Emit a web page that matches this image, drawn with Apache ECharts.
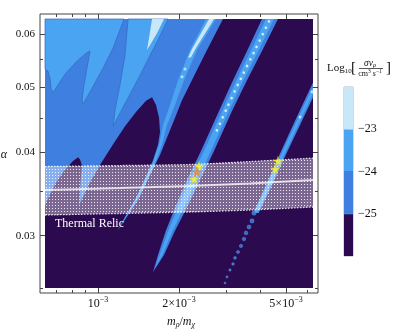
<!DOCTYPE html>
<html><head><meta charset="utf-8">
<script src="https://cdn.jsdelivr.net/npm/echarts@6/dist/echarts.min.js"></script>
<style>html,body{margin:0;padding:0;background:#fff}#c{width:395px;height:330px}</style>
</head><body><div id="c"></div>
<script>
// ===== data: m_rho/m_chi in units of 1e-3, alpha =====
const mRange = [0.635, 6.30];
const alphaRange = [0.02506, 0.0632];
const xMajorTicks = [1, 2, 5];
const xMajorPrefix = ['', '2×', '5×'];
const xMinorTicks = [0.7, 0.8, 0.9, 3, 4, 6];
const yMajorTicks = [0.03, 0.04, 0.05, 0.06];
const yMinorTicks = [0.025, 0.035, 0.045, 0.055];
const colorLevels = [-26, -25, -24, -23, -22];
const colorbarTicks = [-25, -24, -23];

// contour regions (polygon vertices [m, alpha])
const regionBelow25 = [[0.635,0.02506],[6.30,0.02506],[6.30,0.0632],[0.635,0.0632]];
const region25to24 = [[0.635,0.0632],[2.915,0.0632],[2.520,0.0564],[2.255,0.0516],[2.052,0.0478],[1.917,0.0446],[1.790,0.0417],[1.700,0.0396],[1.561,0.0370],[1.420,0.0341],[1.293,0.0322],[1.177,0.0304],[1.271,0.0322],[1.384,0.0341],[1.508,0.0368],[1.601,0.0389],[1.671,0.0410],[1.700,0.0428],[1.686,0.0450],[1.643,0.0470],[1.588,0.0483],[1.508,0.0477],[1.384,0.0459],[1.260,0.0437],[1.147,0.0413],[1.026,0.0385],[0.926,0.0358],[0.850,0.0333],[0.857,0.0351],[0.865,0.0370],[0.872,0.0382],[0.857,0.0390],[0.843,0.0393],[0.807,0.0388],[0.748,0.0375],[0.698,0.0360],[0.663,0.0346],[0.635,0.0333]];
const region24to23a = [[0.635,0.0632],[1.249,0.0632],[1.137,0.0572],[1.044,0.0534],[0.950,0.0498],[0.880,0.0472],[0.872,0.0478],[0.887,0.0504],[0.910,0.0534],[0.934,0.0566],[0.902,0.0562],[0.828,0.0545],[0.760,0.0525],[0.710,0.0504],[0.680,0.0490],[0.669,0.0498],[0.663,0.0516],[0.652,0.0528],[0.635,0.0532]];
const region24to23b = [[1.293,0.0632],[1.821,0.0632],[1.671,0.0588],[1.561,0.0558],[1.433,0.0521],[1.293,0.0482],[1.137,0.0437],[1.157,0.0462],[1.207,0.0504],[1.260,0.0558]];
const regionAbove23 = [[1.588,0.0632],[1.759,0.0632],[1.657,0.0602],[1.561,0.0578],[1.521,0.0568],[1.547,0.0592]];
const stripeB = [[2.520,0.0632],[2.198,0.0568],[1.983,0.0512],[1.852,0.0470],[1.744,0.0439],[1.686,0.0410],[1.581,0.0382],[1.449,0.0353],[1.310,0.0328],[1.197,0.0308],[1.323,0.0328],[1.470,0.0353],[1.622,0.0382],[1.730,0.0410],[1.805,0.0439],[1.933,0.0470],[2.088,0.0512],[2.334,0.0568],[2.746,0.0632]];
const stripeBCore = [[2.586,0.0632],[2.236,0.0570],[2.161,0.0553],[2.217,0.0554],[2.314,0.0572],[2.699,0.0632]];
const stripeBDots = [[2.106,0.0532],[2.053,0.0518]];
const stripeCOuter = [[4.071,0.0632],[3.596,0.0568],[3.176,0.0512],[2.829,0.0462],[2.405,0.0400],[2.151,0.03645],[1.950,0.0333],[1.782,0.0304],[1.671,0.02807],[1.601,0.02648],[1.759,0.02807],[1.925,0.0304],[2.161,0.0333],[2.405,0.03645],[2.688,0.0400],[3.162,0.0462],[3.580,0.0512],[4.088,0.0568],[4.668,0.0632]];
const stripeCInner = [[4.212,0.0632],[3.711,0.0568],[3.272,0.0512],[2.908,0.0462],[2.467,0.0400],[2.207,0.03645],[2.000,0.0333],[1.818,0.0304],[1.696,0.02807],[1.629,0.02685],[1.734,0.02807],[1.887,0.0304],[2.106,0.0333],[2.344,0.03645],[2.619,0.0400],[3.077,0.0462],[3.474,0.0512],[3.961,0.0568],[4.511,0.0632]];
const stripeCCore = [[4.322,0.0627],[3.834,0.0568],[3.372,0.0512],[2.991,0.0462],[2.746,0.0428]];
const stripeDOuter = [[6.299,0.05079],[5.376,0.04434],[4.741,0.03972],[4.245,0.03596],[3.775,0.03243],[3.961,0.03243],[4.476,0.03596],[5.008,0.03972],[5.708,0.04434],[6.299,0.04824]];
const stripeDInner = [[6.299,0.05011],[5.460,0.04434],[4.802,0.03972],[4.296,0.03596],[3.818,0.03243],[3.917,0.03243],[4.423,0.03596],[4.944,0.03972],[5.621,0.04434],[6.299,0.04889]];
const stripeDDots = [[6.245,0.0492],[5.635,0.0451]];
const stripeDBlobs = [[3.801,0.03243],[3.737,0.03156],[3.642,0.03091],[3.550,0.03028],[3.489,0.02966],[3.401,0.02896],[3.315,0.02837],[3.231,0.02779],[3.176,0.02722],[3.095,0.02666],[3.017,0.02603],[2.966,0.02550]];

// thermal relic band
const relicM = [0.635, 1.207, 2.198, 3.673, 6.299];
const relicCentral = [0.03510, 0.03534, 0.03559, 0.03589, 0.03633];
const relicUpper = [0.03805, 0.03818, 0.03832, 0.03871, 0.03918];
const relicLower = [0.03221, 0.03238, 0.03255, 0.03277, 0.03311];

// benchmark points
const starsYellow = [[2.374,0.03812],[2.275,0.03645],[4.668,0.03878],[4.550,0.03773]];
const starsOrange = [[2.334,0.03734]];

// ===== styling =====
const C = {dark:'#2c0a4f', mid:'#3f7fe0', light:'#4ba4f1', lightest:'#c8e8fa', edge:'#3369c2'};
const FONT = '"Liberation Serif","DejaVu Serif","Times New Roman",serif';
const FRAME = '#444';
const X = m => Math.log10(m * 1e-3);
const Y = a => Math.log10(a);
const padX = (X(mRange[1]) - X(mRange[0])) * 5 / 268;
const padY = (Y(alphaRange[1]) - Y(alphaRange[0])) * 5 / 269;
const xMin = X(mRange[0]) - padX, xMax = X(mRange[1]) + padX;
const yMin = Y(alphaRange[0]) - padY, yMax = Y(alphaRange[1]) + padY;

const layers = [
  {pts: regionBelow25, color: C.dark},
  {pts: region25to24, color: C.mid},
  {pts: region24to23a, color: C.light, stroke: C.edge},
  {pts: region24to23b, color: C.light, stroke: C.edge},
  {pts: regionAbove23, color: C.lightest},
  {pts: stripeB, color: C.light},
  {pts: stripeBCore, color: C.lightest},
  {pts: stripeCOuter, color: C.mid},
  {pts: stripeCInner, color: C.light},
  {pts: stripeDOuter, color: C.mid},
  {pts: stripeDInner, color: C.light}
];

const pc = document.createElement('canvas'); pc.width = 3; pc.height = 3;
const g = pc.getContext('2d');
g.fillStyle = 'rgba(255,255,255,0.38)'; g.fillRect(0,0,3,3);
g.fillStyle = 'rgba(255,255,255,0.85)'; g.fillRect(1,1,1,1);

const star = 'path://M50,0 L61,35 L98,35 L68,57 L79,91 L50,70 L21,91 L32,57 L2,35 L39,35 Z';

function xAx(pos, ticks, len, labels) {
  return {
    type:'value', gridIndex:0, position:pos, min:xMin, max:xMax,
    axisLine:{show:false}, splitLine:{show:false},
    axisTick:{show:true, inside:true, length:len, customValues: ticks.map(X), lineStyle:{color:FRAME, width:1}},
    axisLabel: labels ? {
      show:true, customValues: ticks.map(X), margin:3,
      formatter: v => { const i = xMajorTicks.findIndex(t => Math.abs(X(t) - v) < 1e-6); return '{b|' + xMajorPrefix[i] + '10}{s|−3}'; },
      rich: {
        b:{fontFamily:FONT, fontSize:12, color:'#111', lineHeight:16},
        s:{fontFamily:FONT, fontSize:8, color:'#111', lineHeight:10, verticalAlign:'top'}
      }
    } : {show:false}
  };
}
function yAx(pos, ticks, len, labels) {
  return {
    type:'value', gridIndex:0, position:pos, min:yMin, max:yMax,
    axisLine:{show:false}, splitLine:{show:false},
    axisTick:{show:true, inside:true, length:len, customValues: ticks.map(Y), lineStyle:{color:FRAME, width:1}},
    axisLabel: labels ? {
      show:true, customValues: ticks.map(Y), margin:5, fontFamily:FONT, fontSize:11, color:'#111',
      formatter: v => Math.pow(10, v).toFixed(2)
    } : {show:false}
  };
}

const cbColors = [C.dark, C.mid, C.light, C.lightest];
const cbLines = ['#5b9be8', '#2f64b8', '#86c2f0'];

const option = {
  animation:false,
  grid:[
    {left:40, top:14, right:77, bottom:37, show:true, borderColor:FRAME, borderWidth:1, containLabel:false, outerBoundsMode:'none'},
    {left:344, top:87, width:9, height:169, show:true, borderColor:'#b4b4b4', borderWidth:1, containLabel:false, outerBoundsMode:'none'}
  ],
  xAxis:[
    xAx('bottom', xMajorTicks, 5, true),
    xAx('bottom', xMinorTicks, 3, false),
    xAx('top', xMajorTicks, 5, false),
    xAx('top', xMinorTicks, 3, false),
    {type:'value', gridIndex:1, min:0, max:1, show:false}
  ],
  yAxis:[
    yAx('left', yMajorTicks, 5, true),
    yAx('left', yMinorTicks, 3, false),
    yAx('right', yMajorTicks, 5, false),
    yAx('right', yMinorTicks, 3, false),
    {type:'value', gridIndex:1, position:'right', min:colorLevels[0], max:colorLevels[colorLevels.length-1],
     axisLine:{show:false}, splitLine:{show:false},
     axisTick:{show:true, inside:false, length:3, customValues:colorbarTicks, lineStyle:{color:'#333'}},
     axisLabel:{show:true, customValues:colorbarTicks, margin:5, fontFamily:FONT, fontSize:12, color:'#111',
       formatter: v => '−' + Math.abs(v)}}
  ],
  series:[
    {type:'custom', coordinateSystem:'cartesian2d', xAxisIndex:0, yAxisIndex:0, clip:true, silent:true, z:1,
     data: layers.map((l, i) => [X(l.pts[0][0]), Y(l.pts[0][1]), i]),
     renderItem(params, api) {
       const l = layers[params.dataIndex];
       return {type:'polygon', shape:{points: l.pts.map(p => api.coord([X(p[0]), Y(p[1])]))},
               style:{fill:l.color, stroke: l.stroke || null, lineWidth: l.stroke ? 0.7 : 0}};
     }},
    {type:'scatter', xAxisIndex:0, yAxisIndex:0, z:2, silent:true, symbol:'circle',
     symbolSize:(v, p) => 4.4 - 0.22 * p.dataIndex,
     itemStyle:{color:'#3d84e6', borderColor:'#5aa8f2', borderWidth:0.5},
     data: stripeDBlobs.map(p => [X(p[0]), Y(p[1])])},
    {type:'line', xAxisIndex:0, yAxisIndex:0, z:2, silent:true, symbol:'none', smooth:0.3,
     lineStyle:{color:'#d6eefb', width:2.6, type:[0.1, 7], cap:'round'},
     data: stripeCCore.map(p => [X(p[0]), Y(p[1])])},
    {type:'scatter', xAxisIndex:0, yAxisIndex:0, z:2, silent:true, symbol:'circle', symbolSize:3,
     itemStyle:{color:'#d6eefb'},
     data: stripeBDots.concat(stripeDDots).map(p => [X(p[0]), Y(p[1])])},
    {type:'custom', coordinateSystem:'cartesian2d', xAxisIndex:0, yAxisIndex:0, clip:true, silent:true, z:3,
     data:[[X(relicM[0]), Y(relicUpper[0])]],
     renderItem(params, api) {
       const pts = relicM.map((m, i) => api.coord([X(m), Y(relicUpper[i])]))
         .concat(relicM.map((m, i) => api.coord([X(m), Y(relicLower[i])])).reverse());
       return {type:'polygon', shape:{points:pts, smooth:0}, style:{fill:{image:pc, repeat:'repeat'}}};
     }},
    {type:'line', xAxisIndex:0, yAxisIndex:0, z:4, silent:true, symbol:'none', smooth:0.3,
     lineStyle:{color:'rgba(255,255,255,0.85)', width:1.3, type:[1.5,1.5]},
     data: relicM.map((m, i) => [X(m), Y(relicUpper[i])])},
    {type:'line', xAxisIndex:0, yAxisIndex:0, z:4, silent:true, symbol:'none', smooth:0.3,
     lineStyle:{color:'rgba(255,255,255,0.85)', width:1.3, type:[1.5,1.5]},
     data: relicM.map((m, i) => [X(m), Y(relicLower[i])])},
    {type:'line', xAxisIndex:0, yAxisIndex:0, z:4, silent:true, symbol:'none', smooth:0.3,
     lineStyle:{color:'rgba(255,255,255,0.75)', width:2},
     data: relicM.map((m, i) => [X(m), Y(relicCentral[i])])},
    {type:'scatter', xAxisIndex:0, yAxisIndex:0, z:5, silent:true, symbol:star, symbolSize:9.5,
     itemStyle:{color:'#fbf232', borderColor:'#e0c000', borderWidth:0.4},
     data: starsYellow.map(p => [X(p[0]), Y(p[1])])},
    {type:'scatter', xAxisIndex:0, yAxisIndex:0, z:5, silent:true, symbol:star, symbolSize:9.5,
     itemStyle:{color:'#f0843a', borderColor:'#d06010', borderWidth:0.4},
     data: starsOrange.map(p => [X(p[0]), Y(p[1])])},
    {type:'custom', coordinateSystem:'cartesian2d', xAxisIndex:4, yAxisIndex:4, silent:true, z:2,
     data: colorLevels.slice(0, -1).map((lo, i) => [0, lo, colorLevels[i + 1], i]),
     renderItem(params, api) {
       const lo = api.value(1), hi = api.value(2), i = params.dataIndex;
       const p1 = api.coord([0, hi]), p2 = api.coord([1, lo]);
       const ch = [{type:'rect', shape:{x:p1[0], y:p1[1], width:p2[0]-p1[0], height:p2[1]-p1[1]}, style:{fill:cbColors[i]}}];
       if (i < colorLevels.length - 2) ch.push({type:'line', shape:{x1:p1[0], y1:p1[1], x2:p2[0], y2:p1[1]}, style:{stroke:cbLines[i], lineWidth:1}});
       return {type:'group', children:ch};
     }}
  ],
  graphic:[
    {type:'text', left:55, top:218, z:10, style:{text:'Thermal Relic', fill:'#fff', font:'12px ' + FONT}},
    {type:'text', x:4, y:155, z:10, style:{text:'α', fill:'#111', font:'italic 12px ' + FONT, align:'center', verticalAlign:'middle'}},
    {type:'text', x:181, y:322, z:10, style:{text:'{i|m}{sb|ρ}{n|/}{i|m}{sb|χ}', align:'center', verticalAlign:'middle',
      rich:{i:{fontFamily:FONT, fontStyle:'italic', fontSize:12, fill:'#111', lineHeight:14},
            n:{fontFamily:FONT, fontSize:12, fill:'#111', lineHeight:14},
            sb:{fontFamily:FONT, fontStyle:'italic', fontSize:8, fill:'#111', lineHeight:9, verticalAlign:'bottom'}}}},
    {type:'text', x:327, y:68, z:10, style:{text:'{a|Log}{b|10}', align:'left', verticalAlign:'middle',
      rich:{a:{fontFamily:FONT, fontSize:11, fill:'#111', lineHeight:14},
            b:{fontFamily:FONT, fontSize:7, fill:'#111', lineHeight:8, verticalAlign:'bottom'}}}},
    {type:'text', x:351, y:68, z:10, style:{text:'[', fill:'#111', font:'15px ' + FONT, align:'left', verticalAlign:'middle'}},
    {type:'text', x:370, y:63, z:10, style:{text:'{i|σv}{s|ρ}', align:'center', verticalAlign:'middle',
      rich:{i:{fontFamily:FONT, fontStyle:'italic', fontSize:9.5, fill:'#111', lineHeight:11},
            s:{fontFamily:FONT, fontStyle:'italic', fontSize:6.5, fill:'#111', lineHeight:7, verticalAlign:'bottom'}}}},
    {type:'line', z:10, shape:{x1:359, y1:68.5, x2:383, y2:68.5}, style:{stroke:'#111', lineWidth:0.7}},
    {type:'text', x:370, y:73.5, z:10, style:{text:'{r|cm}{p|3}{r| }{ri|s}{p|−1}', align:'center', verticalAlign:'middle',
      rich:{r:{fontFamily:FONT, fontSize:8, fill:'#111', lineHeight:10},
            ri:{fontFamily:FONT, fontStyle:'italic', fontSize:8, fill:'#111', lineHeight:10},
            p:{fontFamily:FONT, fontSize:5.5, fill:'#111', lineHeight:6, verticalAlign:'top'}}}},
    {type:'text', x:386, y:68, z:10, style:{text:']', fill:'#111', font:'15px ' + FONT, align:'left', verticalAlign:'middle'}}
  ]
};
const chart = echarts.init(document.getElementById('c'), null, {renderer:'canvas'});
chart.setOption(option);
</script>
</body></html>
